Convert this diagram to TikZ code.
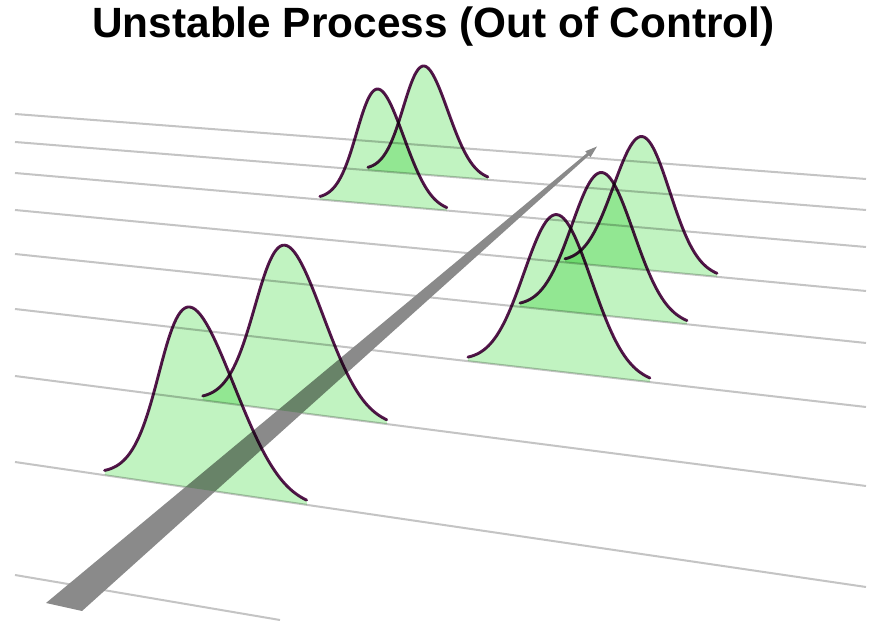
\documentclass[tikz,border=0pt]{standalone}
\usepackage{fontspec}
\setmainfont{Liberation Sans}
\definecolor{verdecampana}{RGB}{193,243,193}
\definecolor{bordocampana}{RGB}{88,22,78}
\definecolor{grigiolinea}{RGB}{196,196,196}
\definecolor{grigiofreccia}{RGB}{138,138,138}

%campana: xl, yl, xr, yr, spostamento picco, altezza
\newcommand{\campana}[6]{%
  \fill[verdecampana] (#1,#2) -- plot[samples=81,domain=-2.7:2.7,variable=\t]
    ({#1+(#3-#1)*(\t+2.7)/5.4+#5*exp(-\t*\t/2)},{#2+(#4-#2)*(\t+2.7)/5.4-#6*exp(-\t*\t/2)}) -- (#3,#4) -- cycle;
  \draw[bordocampana,line width=1.65pt,line cap=round] plot[samples=81,domain=-2.7:2.7,variable=\t]
    ({#1+(#3-#1)*(\t+2.7)/5.4+#5*exp(-\t*\t/2)},{#2+(#4-#2)*(\t+2.7)/5.4-#6*exp(-\t*\t/2)});
}

\begin{document}
\begin{tikzpicture}[x=0.02cm,y=-0.02cm]
            \useasboundingbox (0,0) rectangle (880,634);

            %titolo
            \node[font=\bfseries\fontsize{24.1}{29}\selectfont,anchor=base] (titolo) at (433.5,38) {Unstable Process (Out of Control)};

            %disegna le linee in prospettiva
            \draw[grigiolinea,line width=1.15pt] (15,114) -- (866,179);
            \draw[grigiolinea,line width=1.15pt] (15,142) -- (866,210);
            \draw[grigiolinea,line width=1.15pt] (15,173) -- (866,247);
            \draw[grigiolinea,line width=1.15pt] (15,210) -- (866,291);
            \draw[grigiolinea,line width=1.15pt] (15,254) -- (866,343);
            \draw[grigiolinea,line width=1.15pt] (15,309) -- (866,407);
            \draw[grigiolinea,line width=1.15pt] (15,376) -- (866,486);
            \draw[grigiolinea,line width=1.15pt] (15,462) -- (866,587);
            \draw[grigiolinea,line width=1.15pt] (15,575) -- (280,620);

            %disegna la freccia grigia
            \fill[grigiofreccia] (46,603) -- (586.9,153.2) -- (585.3,151.3) -- (597,146.5)
                -- (590.5,157.3) -- (588.9,155.4) -- (82,611) -- cycle;

            %disegna le campane
            \begin{scope}[blend mode=multiply]
            \campana{368}{170.2}{488}{179.8}{-4}{109}
            \campana{320}{199.5}{447}{210.6}{-5.5}{116}
            \campana{203}{400.3}{387}{424.1}{-10}{167}
            \campana{105}{475.2}{307}{504.9}{-16}{183}
            \campana{565}{262.3}{717}{276.8}{1}{133}
            \campana{520}{306.8}{687}{324.3}{-1.5}{143}
            \campana{468}{361.2}{650}{382.1}{-2}{157}
            \end{scope}
\end{tikzpicture}
\end{document}
